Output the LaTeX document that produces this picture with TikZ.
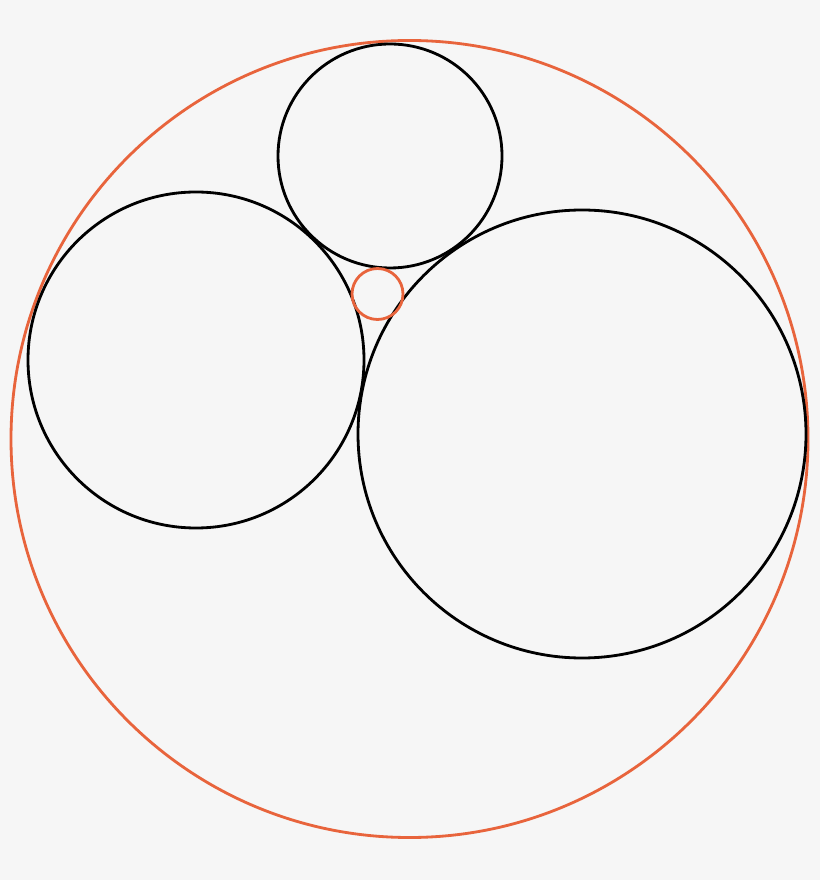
\documentclass[tikz,border=0pt]{standalone}
\usepackage{tikz}
\definecolor{bgcol}{HTML}{F6F6F6}
\definecolor{outercol}{HTML}{E8643C}
\begin{document}
\begin{tikzpicture}[x=0.01cm,y=-0.01cm,
        inner/.style={draw=black,line width=0.8pt},
        outer/.style={draw=outercol,line width=0.8pt}
        ]

        \fill[bgcol] (0,0) rectangle (820,880);
        \useasboundingbox (0,0) rectangle (820,880);

        % enclosing circle
        \draw[outer] (409.5,439) circle (398.5);

        % the three touching circles
        \draw[inner] (390,156) circle (112);
        \draw[inner] (196,360) circle (168);
        \draw[inner] (582,434) circle (224);

        % circle in the gap
        \draw[outer] (377.5,294) circle (25.5);
      \end{tikzpicture}
\end{document}
